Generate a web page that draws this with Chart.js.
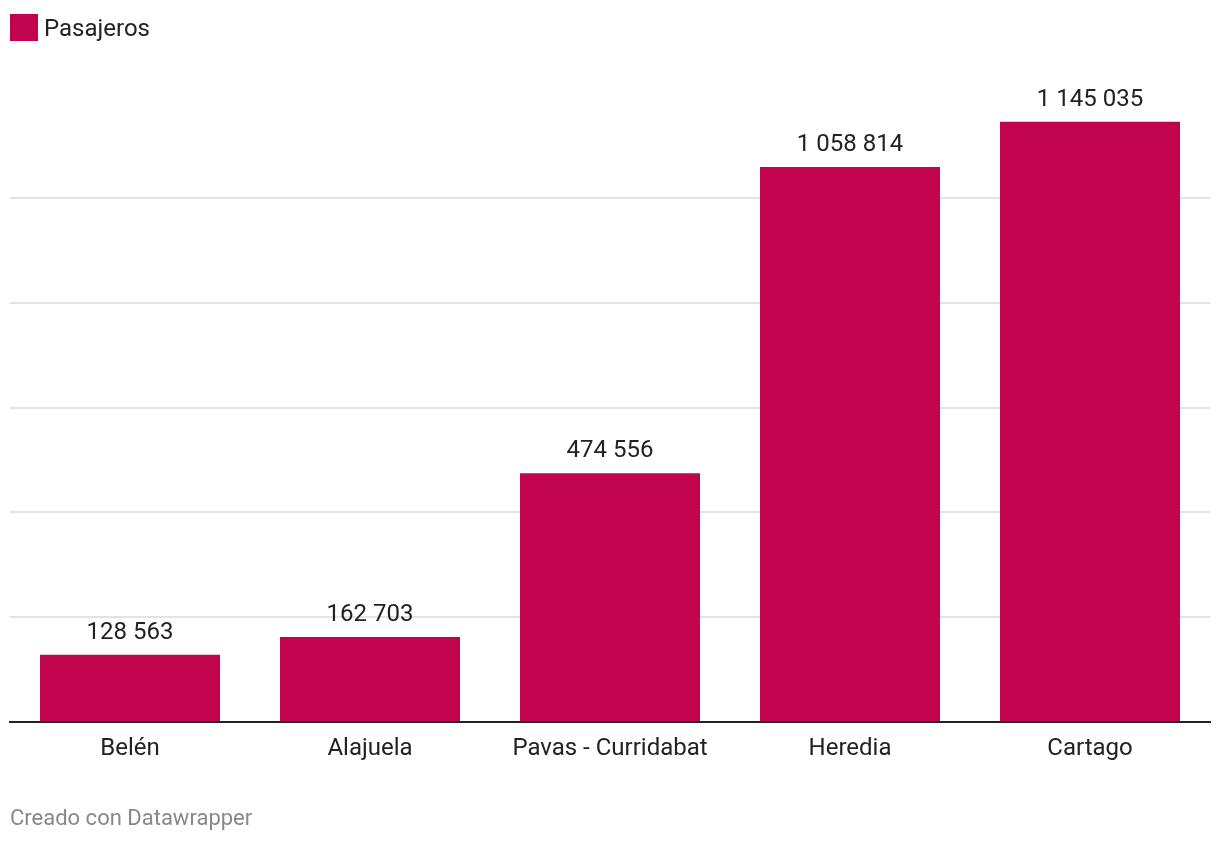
<!DOCTYPE html>
<html>
<head>
<meta charset="utf-8">
<script src="https://cdn.jsdelivr.net/npm/chart.js@4"></script>
<style>
  html, body { margin: 0; padding: 0; background: #fff; font-family: Roboto, sans-serif; }
  #wrap { position: relative; width: 1220px; height: 844px; }
  #legend { position: absolute; left: 10px; top: 14px; height: 27px; display: flex; align-items: center; font-size: 24px; color: #222; }
  #legend .box { width: 28px; height: 27px; background: #c2044f; margin-right: 6px; }
  #footer { position: absolute; left: 10px; top: 804px; font-size: 22px; line-height: 28px; color: #888; }
  canvas { position: absolute; left: 0; top: 0; }
</style>
</head>
<body>
<div id="wrap">
  <canvas id="chart" width="1220" height="844"></canvas>
  <div id="legend"><div class="box"></div><span>Pasajeros</span></div>
  <div id="footer">Creado con Datawrapper</div>
</div>
<script>
//data
var categories = ["Belén", "Alajuela", "Pavas - Curridabat", "Heredia", "Cartago"];
var pasajeros = [128563, 162703, 474556, 1058814, 1145035];
var seriesName = "Pasajeros";
var barColor = "#c2044f";

//format numbers with a space as thousands separator
fmt = (v) => {
  return String(v).replace(/\B(?=(\d{3})+(?!\d))/g, " ");
}

//labels on top of the bars
var valueLabels = {
  id: "valueLabels",
  afterDatasetsDraw: function (chart) {
    var ctx = chart.ctx;
    var meta = chart.getDatasetMeta(0);
    ctx.save();
    ctx.font = "24px Roboto";
    ctx.fillStyle = "#222";
    ctx.textAlign = "center";
    ctx.textBaseline = "middle";
    meta.data.forEach(function (bar, i) {
      ctx.fillText(fmt(chart.data.datasets[0].data[i]), bar.x, bar.y - 22);
    });
    ctx.restore();
  }
};

var ctx = document.getElementById("chart").getContext("2d");
var myChart = new Chart(ctx, {
  type: "bar",
  data: {
    labels: categories,
    datasets: [{
      label: seriesName,
      data: pasajeros,
      backgroundColor: barColor,
      barPercentage: 0.75,
      categoryPercentage: 1
    }]
  },
  options: {
    responsive: false,
    animation: false,
    layout: { padding: { left: 10, right: 10, top: 93, bottom: 69 } },
    plugins: {
      legend: { display: false },
      tooltip: { enabled: false }
    },
    scales: {
      x: {
        grid: { display: false, drawTicks: false },
        border: { display: true, color: "#222", width: 2 },
        ticks: { font: { family: "Roboto", size: 24 }, color: "#222", padding: 12 }
      },
      y: {
        min: 0,
        max: 1200000,
        grid: {
          drawTicks: false,
          color: (c) => (c.tick.value == 0 || c.tick.value == 1200000) ? "rgba(0,0,0,0)" : "#e3e3e3",
          lineWidth: 2
        },
        border: { display: false },
        ticks: { display: false, stepSize: 200000 }
      }
    }
  },
  plugins: [valueLabels]
});
</script>
</body>
</html>
